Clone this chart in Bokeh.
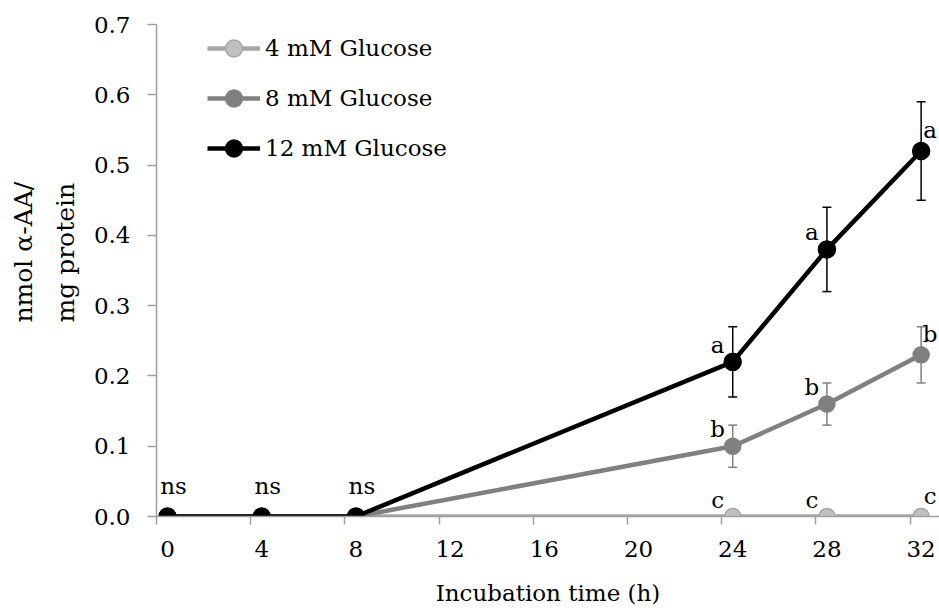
from bokeh.plotting import figure
from bokeh.models import (Range1d, FixedTicker, ColumnDataSource, Whisker, TeeHead,
                          Title, NumeralTickFormatter)
from bokeh.core.properties import value
from bokeh.embed import file_html
from bokeh.resources import INLINE

# ---- data ----
times = [0, 4, 8, 24, 28, 32]
x_tick_values = [0, 4, 8, 12, 16, 20, 24, 28, 32]
y_tick_values = [0.0, 0.1, 0.2, 0.3, 0.4, 0.5, 0.6, 0.7]

glc4 = [0, 0, 0, 0, 0, 0]
glc8 = [0, 0, 0, 0.10, 0.16, 0.23]
glc12 = [0, 0, 0, 0.22, 0.38, 0.52]

err4 = [0, 0, 0, 0, 0, 0]
err8 = [0, 0, 0, 0.03, 0.03, 0.04]
err12 = [0, 0, 0, 0.05, 0.06, 0.07]

sig4 = ["", "", "", "c", "c", "c"]
sig8 = ["", "", "", "b", "b", "b"]
sig12 = ["ns", "ns", "ns", "a", "a", "a"]

series_names = ["4 mM Glucose", "8 mM Glucose", "12 mM Glucose"]
ytitle_lines = ["nmol α-AA/", "mg protein"]

FONT = "DejaVu Serif"
FS = "23px"

X0 = -0.467

p = figure(width=939, height=608, output_backend="svg", toolbar_location=None,
           x_range=Range1d(X0, 32.78), y_range=Range1d(0, 0.7),
           min_border_left=156, min_border_right=0, min_border_top=24, min_border_bottom=91)
p.outline_line_color = None
p.xgrid.grid_line_color = None
p.ygrid.grid_line_color = None
p.background_fill_color = "white"

# x axis
p.xaxis.ticker = FixedTicker(ticks=x_tick_values, minor_ticks=[t + X0 for t in x_tick_values])
p.xaxis.major_tick_line_color = None
p.xaxis.major_tick_out = 0
p.xaxis.major_tick_in = 0
p.xaxis.minor_tick_out = 8
p.xaxis.minor_tick_in = 0
p.xaxis.minor_tick_line_color = "#a0a0a0"
p.xaxis.minor_tick_line_width = 1.5
p.xaxis.axis_line_color = "#a0a0a0"
p.xaxis.axis_line_width = 1.5
p.xaxis.major_label_standoff = 16
p.xaxis.axis_label = "Incubation time (h)"
p.xaxis.axis_label_standoff = 20

# y axis
p.yaxis.ticker = FixedTicker(ticks=y_tick_values)
p.yaxis.formatter = NumeralTickFormatter(format="0.0")
p.yaxis.minor_tick_line_color = None
p.yaxis.major_tick_out = 9
p.yaxis.major_tick_in = 0
p.yaxis.major_tick_line_color = "#a0a0a0"
p.yaxis.major_tick_line_width = 1.5
p.yaxis.axis_line_color = "#a0a0a0"
p.yaxis.axis_line_width = 1.5
p.yaxis.major_label_standoff = 17

for ax in (p.xaxis, p.yaxis):
    ax.major_label_text_font = FONT
    ax.major_label_text_font_size = FS
    ax.major_label_text_color = "black"
    ax.axis_label_text_font = FONT
    ax.axis_label_text_font_size = FS
    ax.axis_label_text_font_style = "normal"
    ax.axis_label_text_color = "black"

styles = [
    dict(line="#a6a6a6", fill="#c0c0c0", mline="#a6a6a6", size=16, err="#a6a6a6"),
    dict(line="#808080", fill="#808080", mline="#808080", size=16, err="#808080"),
    dict(line="#000000", fill="#000000", mline="#000000", size=17, err="#000000"),
]
all_vals = [glc4, glc8, glc12]
all_errs = [err4, err8, err12]
all_sigs = [sig4, sig8, sig12]

for name, vals, errs, sigs, st in zip(series_names, all_vals, all_errs, all_sigs, styles):
    src = ColumnDataSource(dict(x=times, y=vals))
    p.line("x", "y", source=src, line_color=st["line"], line_width=4.5, legend_label=name)
    p.scatter("x", "y", source=src, size=st["size"], fill_color=st["fill"],
              line_color=st["mline"], line_width=1.5, legend_label=name)

    ex = [t for t, e in zip(times, errs) if e > 0]
    ey = [v for v, e in zip(vals, errs) if e > 0]
    ee = [e for e in errs if e > 0]
    if ex:
        esrc = ColumnDataSource(dict(x=ex, upper=[v + e for v, e in zip(ey, ee)],
                                     lower=[v - e for v, e in zip(ey, ee)]))
        w = Whisker(source=esrc, base="x", upper="upper", lower="lower",
                    line_color=st["err"], line_width=1.5, level="glyph",
                    upper_head=TeeHead(size=9, line_color=st["err"], line_width=1.5),
                    lower_head=TeeHead(size=9, line_color=st["err"], line_width=1.5))
        p.add_layout(w)

    lx, ly, lt, dx, dy = [], [], [], [], []
    for t, v, s in zip(times, vals, sigs):
        if not s:
            continue
        lx.append(t); ly.append(v); lt.append(s)
        if s == "ns":
            dx.append(6); dy.append(-31)
        elif t == times[-1]:
            dx.append(9); dy.append(-21)
        else:
            dx.append(-15); dy.append(-17)
    tsrc = ColumnDataSource(dict(x=lx, y=ly, text=lt, dx=dx, dy=dy))
    p.text("x", "y", text="text", x_offset="dx", y_offset="dy", source=tsrc,
           text_font=value(FONT), text_font_size=FS, text_color="black",
           text_align="center", text_baseline="middle")

# legend
lg = p.legend[0]
lg.location = (51, 347)
lg.padding = 0
lg.margin = 0
lg.spacing = 8
lg.glyph_width = 53
lg.glyph_height = 42
lg.label_height = 26
lg.label_standoff = 5
lg.label_text_font = FONT
lg.label_text_font_size = FS
lg.label_text_color = "black"
lg.border_line_color = None
lg.background_fill_alpha = 0

# y axis title: two left-aligned lines, as side titles left of the axis
for line_text, so in zip(reversed(ytitle_lines), [22, 0]):
    p.add_layout(Title(text=line_text, align="left", offset=194, standoff=so,
                       text_font=FONT, text_font_size="25px", text_font_style="normal",
                       text_color="black"), "left")

open("out.html", "w").write(file_html(p, INLINE))
